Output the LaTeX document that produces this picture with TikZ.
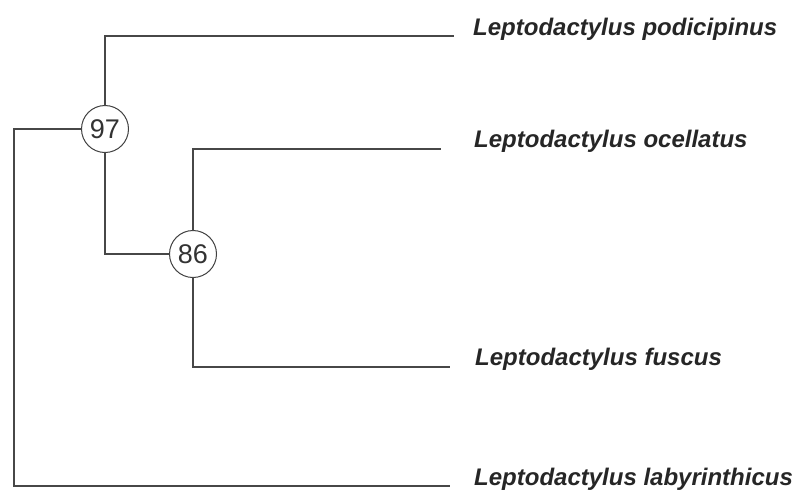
\documentclass[tikz,border=0pt]{standalone}
\usepackage{fontspec}
\setmainfont{Liberation Sans}
\begin{document}
\begin{tikzpicture}[x=1pt,y=-1pt,
  branch/.style={draw=black!72,line width=1.8pt,line cap=rect},
  support/.style={circle,draw=black!75,line width=1pt,fill=white,inner sep=0pt,
    minimum size=47pt,font=\fontsize{27}{27}\selectfont,text=black!80},
  taxon/.style={anchor=base west,inner sep=0pt,
    font=\fontsize{24}{24}\selectfont\bfseries\itshape,text=black!85}]
\useasboundingbox (0,0) rectangle (799,493);
% internal nodes with bootstrap support
\node[support] (n97) at (105,129) {97};
\node[support] (n86) at (193,254) {86};
% root
\coordinate (root) at (14,129);
% tips
\coordinate (t1) at (453,36);
\coordinate (t2) at (440,149);
\coordinate (t3) at (449,367);
\coordinate (t4) at (449,486);
% branches
\draw[branch] (n97.west) -- (root) |- (t4);
\draw[branch] (n97.north) |- (t1);
\draw[branch] (n97.south) |- (n86.west);
\draw[branch] (n86.north) |- (t2);
\draw[branch] (n86.south) |- (t3);
% taxon labels
\node[taxon] (l1) at (473,35) {Leptodactylus podicipinus};
\node[taxon] (l2) at (474,147) {Leptodactylus ocellatus};
\node[taxon] (l3) at (475,365) {Leptodactylus fuscus};
\node[taxon] (l4) at (474,485) {Leptodactylus labyrinthicus};
\end{tikzpicture}
\end{document}
